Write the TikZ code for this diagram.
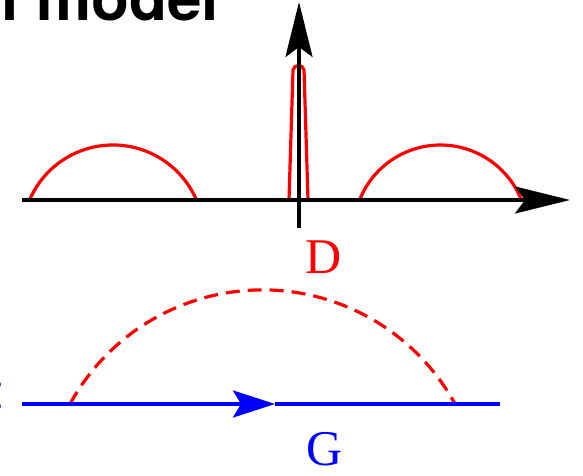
\documentclass[tikz,border=0pt]{standalone}
\usepackage{fontspec}
\setmainfont{Liberation Serif}
\newfontfamily\headfont{TeX Gyre Heros}
\usetikzlibrary{arrows.meta}
\tikzset{
  axis/.style={line width=3.4pt, black},
  redline/.style={line width=3.2pt, red},
  blueline/.style={line width=3.4pt, blue},
  bigtip/.style={-{Stealth[length=55pt, width=27pt, inset=10pt]}},
  bluetip/.style={-{Stealth[length=42pt, width=27pt, inset=8pt]}},
  lbl/.style={inner sep=0pt, anchor=base, font=\fontsize{50}{50}\selectfont},
}
\begin{document}
\begin{tikzpicture}[x=1pt,y=1pt]
\useasboundingbox (0,0) rectangle (583,476);
% title (clipped at the top edge)
\node[inner sep=0pt, anchor=base east, font=\headfont\bfseries\fontsize{62}{62}\selectfont] (title) at (219,455) {l model};
% axes
\coordinate (xs) at (22,276);
\coordinate (xe) at (570,276);
\coordinate (ys) at (299,248);
\coordinate (ye) at (299,474);
% red curves
\coordinate (la) at (30,277);
\coordinate (ra) at (360,277);
\coordinate (sl) at (289,276);
\coordinate (slt) at (293,406);
\coordinate (srt) at (304,406);
\coordinate (sr) at (308,276);
\draw[redline] (la) arc[start angle=156.1, end angle=23.9, radius=90.8];
\draw[redline] (ra) arc[start angle=157.7, end angle=22.3, radius=87];
\draw[redline, line join=round] (sl) -- (slt) .. controls (294,412) and (303,412) .. (srt) -- (sr);
\draw[axis, bigtip] (xs) -- (xe);
\draw[axis, bigtip] (ys) -- (ye);
\node[lbl, text=red] (D) at (324,202) {D};
% dashed arc and propagator
\coordinate (da) at (70,72);
\draw[redline, dash pattern=on 14pt off 8pt] (da) arc[start angle=151.3, end angle=28.7, radius=219.5];
\coordinate (bs) at (22,72);
\coordinate (bm) at (275,72);
\coordinate (be) at (500,72);
\draw[blueline] (bm) -- (be);
\draw[blueline, bluetip] (bs) -- (bm);
\node[lbl, text=blue] (G) at (324.5,10) {G};
\node[inner sep=0pt, anchor=base, text=blue, font=\fontsize{60}{60}\selectfont] (colon) at (-2,66) {:};
\end{tikzpicture}
\end{document}
